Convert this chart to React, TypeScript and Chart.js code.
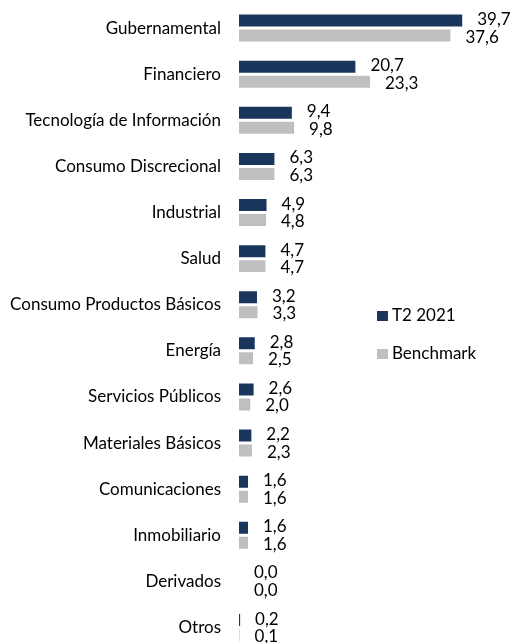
import React, { useEffect, useRef } from "react";
import { Chart, registerables } from "chart.js";

Chart.register(...registerables);

const categories = [
  "Gubernamental",
  "Financiero",
  "Tecnología de Información",
  "Consumo Discrecional",
  "Industrial",
  "Salud",
  "Consumo Productos Básicos",
  "Energía",
  "Servicios Públicos",
  "Materiales Básicos",
  "Comunicaciones",
  "Inmobiliario",
  "Derivados",
  "Otros",
];
const t2Values = [39.7, 20.7, 9.4, 6.3, 4.9, 4.7, 3.2, 2.8, 2.6, 2.2, 1.6, 1.6, 0.0, 0.2];
const benchmarkValues = [37.6, 23.3, 9.8, 6.3, 4.8, 4.7, 3.3, 2.5, 2.0, 2.3, 1.6, 1.6, 0.0, 0.1];
const seriesLabels = ["T2 2021", "Benchmark"];
const seriesColors = ["#1B365D", "#BFBFBF"];

const FONT = "Lato, 'Open Sans', sans-serif";
const FONT_SIZE = 17;

const valueLabelPlugin = {
  id: "valueLabels",
  afterDatasetsDraw(chart: any) {
    const ctx = chart.ctx;
    ctx.save();
    ctx.font = `${FONT_SIZE}px ${FONT}`;
    ctx.fillStyle = "#000";
    ctx.textAlign = "left";
    ctx.textBaseline = "middle";
    chart.data.datasets.forEach((ds: any, di: number) => {
      const meta = chart.getDatasetMeta(di);
      meta.data.forEach((bar: any, i: number) => {
        const v = ds.data[i] as number;
        const txt = v.toFixed(1).replace(".", ",");
        const dy = di === 0 ? -1 : 1.5;
        ctx.fillText(txt, bar.x + 15, bar.y + dy);
      });
    });
    ctx.restore();
  },
};

const legendPlugin = {
  id: "customLegend",
  afterDraw(chart: any) {
    const ctx = chart.ctx;
    ctx.save();
    ctx.font = `${FONT_SIZE}px ${FONT}`;
    ctx.textAlign = "left";
    ctx.textBaseline = "middle";
    const x = 377;
    const ys = [316, 354];
    chart.data.datasets.forEach((ds: any, di: number) => {
      const y = ys[di];
      ctx.fillStyle = ds.backgroundColor;
      ctx.fillRect(x, y - 5, 11, 10);
      ctx.fillStyle = "#000";
      ctx.fillText(ds.label, x + 15, y);
    });
    ctx.restore();
  },
};

export default function App() {
  const ref = useRef<HTMLCanvasElement | null>(null);
  useEffect(() => {
    if (!ref.current) return;
    const chart = new Chart(ref.current, {
      type: "bar",
      data: {
        labels: categories,
        datasets: [
          {
            label: seriesLabels[0],
            data: t2Values,
            backgroundColor: seriesColors[0],
            borderWidth: 0,
            categoryPercentage: 0.65,
            barPercentage: 0.8,
          },
          {
            label: seriesLabels[1],
            data: benchmarkValues,
            backgroundColor: seriesColors[1],
            borderWidth: 0,
            categoryPercentage: 0.65,
            barPercentage: 0.8,
          },
        ],
      },
      options: {
        indexAxis: "y",
        responsive: false,
        animation: false,
        devicePixelRatio: 1,
        layout: { padding: { top: 5, bottom: 1, left: 0, right: 18 } },
        plugins: {
          legend: { display: false },
          tooltip: { enabled: false },
        },
        scales: {
          x: { display: false, min: 0, max: 45 },
          y: {
            grid: { display: false, drawTicks: true, tickLength: 18 },
            border: { display: false },
            ticks: {
              padding: 0,
              color: "#000",
              autoSkip: false,
              font: { family: FONT, size: FONT_SIZE, lineHeight: 0.4 },
            },
            afterFit(scale: any) {
              scale.width = 239;
            },
          },
        },
      },
      plugins: [valueLabelPlugin, legendPlugin],
    });
    return () => chart.destroy();
  }, []);
  return (
    <div
      style={{
        position: "fixed",
        left: 0,
        top: 0,
        width: 510,
        height: 643,
        overflow: "hidden",
        background: "#fff",
      }}
    >
      <canvas ref={ref} width={510} height={654} style={{ width: 510, height: 654, display: "block" }} />
    </div>
  );
}
